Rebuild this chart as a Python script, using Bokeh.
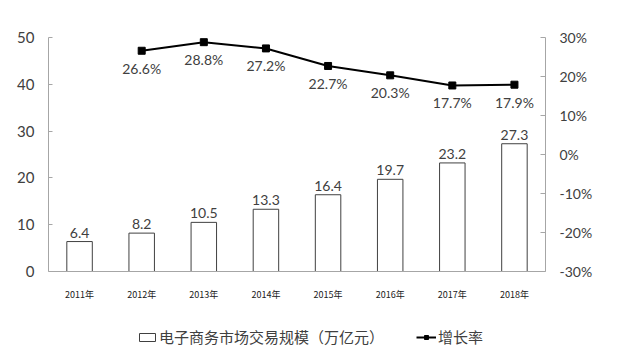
from bokeh.plotting import figure
from bokeh.layouts import column
from bokeh.models import Range1d, LinearAxis, FixedTicker, Legend, LegendItem, PrintfTickFormatter
from bokeh.core.properties import value
from bokeh.embed import file_html
from bokeh.resources import INLINE

years = ["2011年", "2012年", "2013年", "2014年", "2015年", "2016年", "2017年", "2018年"]
scale = [6.4, 8.2, 10.5, 13.3, 16.4, 19.7, 23.2, 27.3]
growth_years = ["2012年", "2013年", "2014年", "2015年", "2016年", "2017年", "2018年"]
growth = [26.6, 28.8, 27.2, 22.7, 20.3, 17.7, 17.9]
left_ticks = [0, 10, 20, 30, 40, 50]
right_ticks = [-30, -20, -10, 0, 10, 20, 30]
bar_label = "电子商务市场交易规模（万亿元）"
line_label = "增长率"

FONT = "Lato"
CJK = "Noto Sans CJK SC"
TXT = "#404040"
AX = "#a6a6a6"

p = figure(x_range=years, y_range=Range1d(0, 50), width=603, height=305,
           output_backend="svg", toolbar_location=None,
           min_border_left=48, min_border_right=58, min_border_top=37, min_border_bottom=34)
p.extra_y_ranges = {"pct": Range1d(-30, 30)}
p.xgrid.grid_line_color = None
p.ygrid.grid_line_color = None
p.outline_line_color = None

p.vbar(x=years, top=scale, width=0.41, fill_color="white", line_color="#404040", line_width=1)
p.text(x=years, y=scale, text=[str(v) for v in scale], y_offset=-4,
       text_align="center", text_baseline="bottom", text_font=value(FONT),
       text_font_size="14px", text_color=TXT)

p.line(x=growth_years, y=growth, y_range_name="pct", line_color="black", line_width=2)
p.scatter(x=growth_years, y=growth, y_range_name="pct", marker="square", size=7,
          fill_color="black", line_color="black")
p.text(x=growth_years, y=growth, text=["%.1f%%" % v for v in growth], y_range_name="pct",
       y_offset=9, text_align="center", text_baseline="top", text_font=value(FONT),
       text_font_size="14px", text_color=TXT)

ya = p.yaxis[0]
ya.ticker = FixedTicker(ticks=left_ticks)
ya.axis_line_color = AX
ya.major_tick_line_color = AX
ya.major_tick_in = 4
ya.major_tick_out = 0
ya.minor_tick_line_color = None
ya.major_label_text_font = FONT
ya.major_label_text_font_size = "15px"
ya.major_label_text_color = TXT
ya.major_label_standoff = 14

ra = LinearAxis(y_range_name="pct", ticker=FixedTicker(ticks=right_ticks),
                formatter=PrintfTickFormatter(format="%d%%"))
ra.axis_line_color = AX
ra.major_tick_line_color = AX
ra.major_tick_in = 5
ra.major_tick_out = 0
ra.minor_tick_line_color = None
ra.major_label_text_font = FONT
ra.major_label_text_font_size = "14px"
ra.major_label_text_color = TXT
ra.major_label_standoff = 14
p.add_layout(ra, "right")

xa = p.xaxis[0]
xa.axis_line_color = AX
xa.major_tick_line_color = None
xa.minor_tick_line_color = None
xa.major_label_text_font = CJK
xa.major_label_text_font_size = "9px"
xa.major_label_text_color = "#202020"
xa.major_label_standoff = 10

# legend strip
q = figure(width=603, height=45, x_range=Range1d(0, 1), y_range=Range1d(0, 1),
           output_backend="svg", toolbar_location=None,
           x_axis_location=None, y_axis_location=None,
           min_border=0, min_border_left=0, min_border_right=0, min_border_top=0, min_border_bottom=0)
q.xgrid.grid_line_color = None
q.ygrid.grid_line_color = None
q.outline_line_color = None
lb = q.quad(left=[-10], right=[-9], bottom=[-10], top=[-9], fill_color="white", line_color="#404040")
ll = q.line(x=[-10, -9], y=[-10, -10], line_color="black", line_width=2)
ls = q.scatter(x=[-10], y=[-10], marker="square", size=7, fill_color="black", line_color="black")
legend = Legend(items=[LegendItem(label=bar_label, renderers=[lb]),
                       LegendItem(label=line_label, renderers=[ll, ls])],
                orientation="horizontal", location=(89, 3))
legend.label_text_font = CJK
legend.label_text_font_size = "15px"
legend.label_text_color = TXT
legend.glyph_width = 20
legend.glyph_height = 10
legend.label_standoff = 2
legend.spacing = 32
legend.padding = 0
legend.margin = 0
legend.border_line_color = None
legend.background_fill_alpha = 0
q.add_layout(legend, "center")

layout = column(p, q, spacing=0)
open("out.html", "w").write(file_html(layout, INLINE))
